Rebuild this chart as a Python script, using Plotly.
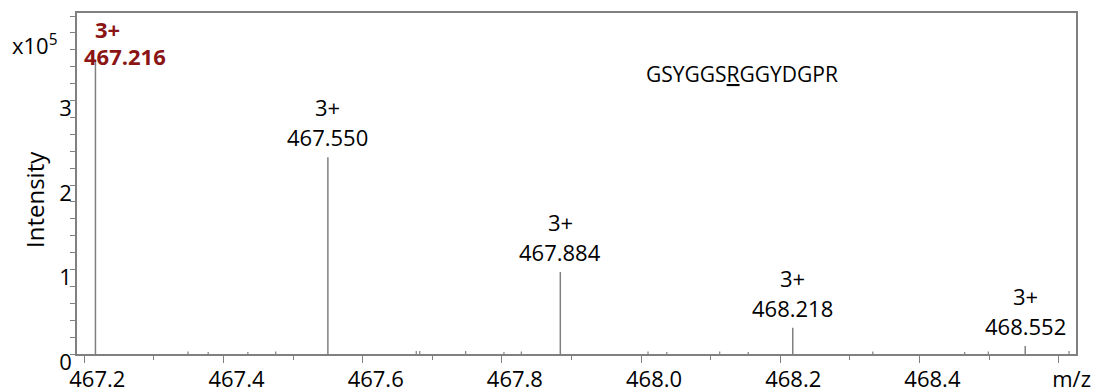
import plotly.graph_objects as go

# ---- data ----
peak_mz = [467.216, 467.550, 467.884, 468.218, 468.552]
peak_int = [3.46e5, 2.33e5, 0.97e5, 0.31e5, 0.095e5]
peak_charge = ["3+", "3+", "3+", "3+", "3+"]

noise_mz = [467.349, 467.378, 467.435, 467.475, 467.677, 467.682, 467.748,
            467.803, 467.828, 468.010, 468.037, 468.113, 468.154, 468.333,
            468.465, 468.499, 468.615]
noise_int = [3000, 2500, 2500, 3000, 3500, 3500, 3500, 2500, 3000, 3000,
             2500, 3000, 2500, 3000, 2500, 3000, 3500]

x_tickvals = [467.2, 467.4, 467.6, 467.8, 468.0, 468.2, 468.4, 468.6]
x_ticktext = ["467.2", "467.4", "467.6", "467.8", "468.0", "468.2", "468.4", "m/z"]
y_tickvals = [0, 1e5, 2e5, 3e5, 4e5]
y_ticktext = ["0", "1", "2", "3", ""]

sequence = "GSYGGS<u>R</u>GGYDGPR"

FONT = "Open Sans"
GRAY = "#808080"
RED = "#8B1414"

def stems(xs, ys):
    sx, sy = [], []
    for a, b in zip(xs, ys):
        sx += [a, a, None]
        sy += [0, b, None]
    return sx, sy

fig = go.Figure()
nx, ny = stems(noise_mz, noise_int)
fig.add_trace(go.Scatter(x=nx, y=ny, mode="lines",
                         line=dict(color=GRAY, width=1.2), hoverinfo="skip"))
px_, py_ = stems(peak_mz, peak_int)
fig.add_trace(go.Scatter(x=px_, y=py_, mode="lines",
                         line=dict(color=GRAY, width=1.5), hoverinfo="skip"))

# peak labels
for i, (mz, inten, ch) in enumerate(zip(peak_mz, peak_int, peak_charge)):
    if i == 0:
        fig.add_annotation(x=mz, y=inten, text="<b>%.3f</b>" % mz, showarrow=False,
                           xanchor="center", yanchor="middle", xshift=30, yshift=6,
                           font=dict(family=FONT, size=22, color=RED))
        fig.add_annotation(x=mz, y=inten, text="<b>%s</b>" % ch, showarrow=False,
                           xanchor="center", yanchor="middle", xshift=12, yshift=33,
                           font=dict(family=FONT, size=22, color=RED))
    else:
        fig.add_annotation(x=mz, y=inten, text="%.3f" % mz, showarrow=False,
                           xanchor="center", yanchor="middle", yshift=20,
                           font=dict(family=FONT, size=22, color="black"))
        fig.add_annotation(x=mz, y=inten, text=ch, showarrow=False,
                           xanchor="center", yanchor="middle", yshift=50,
                           font=dict(family=FONT, size=22, color="black"))

# sequence
fig.add_annotation(xref="paper", yref="paper", x=(742 - 77) / 999, y=(354 - 74) / 341,
                   text=sequence, showarrow=False, xanchor="center", yanchor="middle",
                   font=dict(family=FONT, size=21, color="black"))
# multiplier
fig.add_annotation(xref="paper", yref="paper", x=(10 - 77) / 999, y=(354 - 44) / 341,
                   text="x10<sup>5</sup>", showarrow=False, xanchor="left", yanchor="middle",
                   font=dict(family=FONT, size=22, color="black"))
# y title
fig.add_annotation(xref="paper", yref="paper", x=(35 - 77) / 999, y=(354 - 200) / 341,
                   text="Intensity", showarrow=False, textangle=-90,
                   xanchor="center", yanchor="middle",
                   font=dict(family=FONT, size=24, color="black"))

fig.update_layout(
    width=1097, height=384,
    margin=dict(l=69, r=29, t=5, b=38, autoexpand=False),
    paper_bgcolor="white", plot_bgcolor="white",
    showlegend=False,
    font=dict(family=FONT, size=22, color="black"),
    xaxis=dict(range=[467.1895, 468.625], tickvals=x_tickvals, ticktext=x_ticktext,
               automargin=False,
               ticks="outside", ticklen=7, tickcolor=GRAY, tickwidth=1.2,
               showline=True, linecolor=GRAY, linewidth=1.5, mirror=True,
               showgrid=False, zeroline=False,
               ticklabelshift=13, ticklabelstandoff=-2,
               minor=dict(dtick=0.1, tick0=467.2, ticks="outside", ticklen=4,
                          tickcolor=GRAY, tickwidth=1.2, showgrid=False),
               tickfont=dict(family=FONT, size=22, color="black")),
    yaxis=dict(range=[0, 4.036e5], tickvals=y_tickvals, ticktext=y_ticktext,
               automargin=False,
               ticks="outside", ticklen=5, tickcolor=GRAY, tickwidth=1.2,
               showline=True, linecolor=GRAY, linewidth=1.5, mirror=True,
               showgrid=False, zeroline=False,
               ticklabelshift=8, ticklabelstandoff=-6,
               minor=dict(dtick=2e4, tick0=0, ticks="outside", ticklen=5,
                          tickcolor=GRAY, tickwidth=1.2, showgrid=False),
               tickfont=dict(family=FONT, size=22, color="black")),
)

fig.write_html("out.html")
